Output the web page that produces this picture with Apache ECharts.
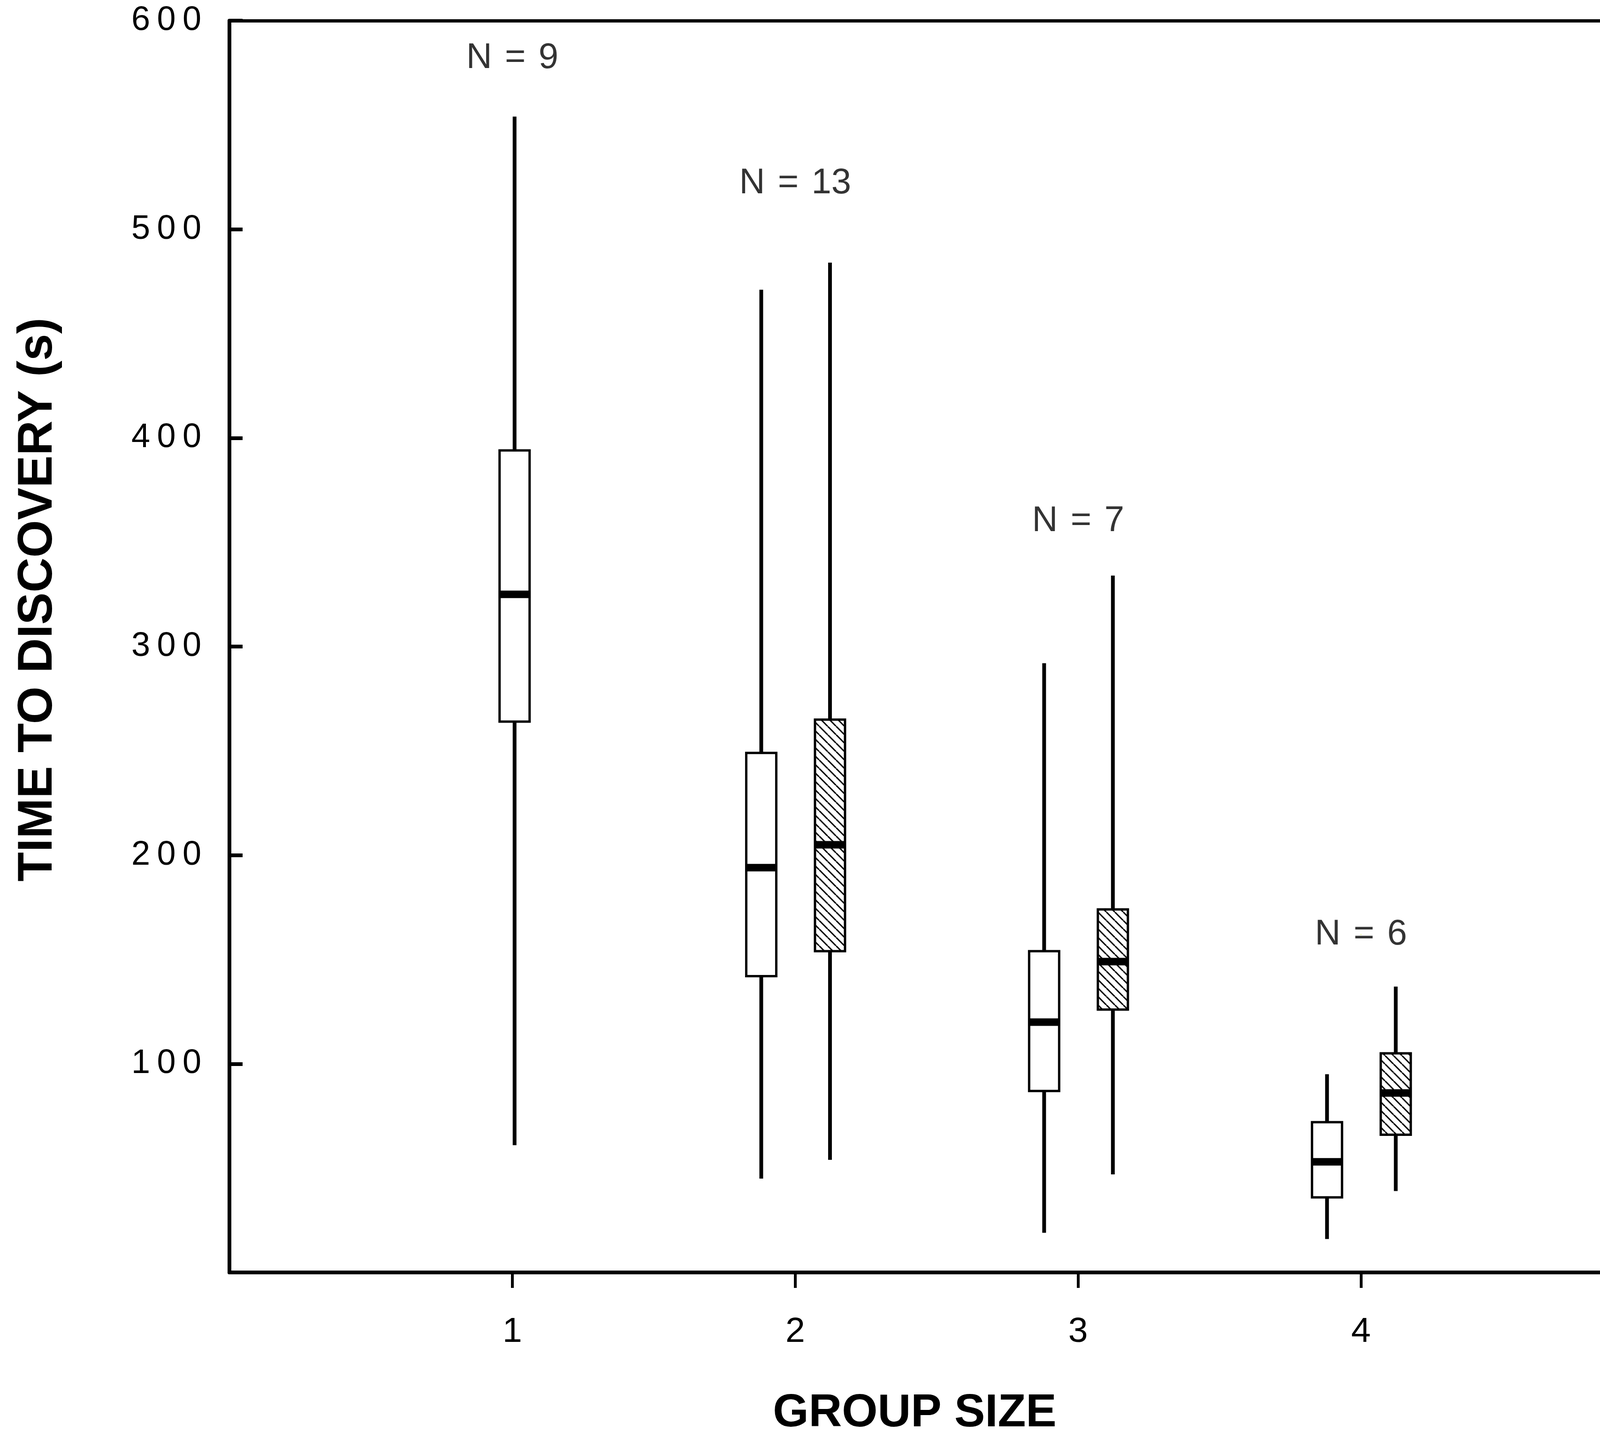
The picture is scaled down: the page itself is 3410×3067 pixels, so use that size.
<!DOCTYPE html>
<html>
<head>
<meta charset="utf-8">
<script src="https://cdn.jsdelivr.net/npm/echarts@6/dist/echarts.min.js"></script>
<style>
  html, body { margin: 0; background: #fff; }
  #chart { width: 3410px; height: 3067px; }
</style>
</head>
<body>
<div id="chart"></div>
<script>
// box plot values (seconds)
const groupSize   = [1, 2, 2, 3, 3, 4, 4];
const hatched     = [0, 0, 1, 0, 1, 0, 1];
const whiskerLow  = [61, 45, 54, 19, 47, 16, 39];
const q1          = [264, 142, 154, 87, 126, 36, 66];
const median      = [325, 194, 205, 120, 149, 53, 86];
const q3          = [394, 249, 265, 154, 174, 72, 105];
const whiskerHigh = [554, 471, 484, 292, 334, 95, 137];

const xTicks  = [1, 2, 3, 4];
const yTicks  = [100, 200, 300, 400, 500, 600];
const nLabels = ['N = 9', 'N = 13', 'N = 7', 'N = 6'];
const nLabelY = [582, 522, 360, 162];

const FONT = 'Liberation Sans';
const spaced = s => String(s).split('').join('\u2009');

// diagonal hatch used for the second box of each group
function hatchPattern() {
  const s = 18;
  const c = document.createElement('canvas');
  c.width = s; c.height = s;
  const ctx = c.getContext('2d');
  ctx.fillStyle = '#fff';
  ctx.fillRect(0, 0, s, s);
  ctx.strokeStyle = '#000';
  ctx.lineWidth = 3;
  for (let k = -1; k <= 1; k++) {
    ctx.beginPath();
    ctx.moveTo(k * s, 0);
    ctx.lineTo(k * s + s, s);
    ctx.stroke();
  }
  return c;
}
const hatch = { image: hatchPattern(), repeat: 'repeat' };

const boxData = groupSize.map((g, i) => {
  const paired = groupSize.filter(v => v === g).length > 1;
  const off = hatched[i] ? 0.123 : (paired ? -0.12 : 0.008);
  return [g + off, whiskerLow[i], q1[i], median[i], q3[i], whiskerHigh[i], hatched[i]];
});

const chart = echarts.init(document.getElementById('chart'));

const option = {
  backgroundColor: '#fff',
  animation: false,
  grid: { left: 489, top: 44, right: 0, bottom: 304 },
  xAxis: [
    {
      type: 'value',
      min: 0,
      max: 4.845,
      splitLine: { show: false },
      axisLine: { lineStyle: { color: '#000', width: 8 } },
      axisTick: { customValues: xTicks, length: 33, inside: false, lineStyle: { color: '#000', width: 6 } },
      axisLabel: { customValues: xTicks, margin: 90, color: '#000', fontFamily: FONT, fontSize: 75, formatter: v => spaced(v) },
      name: 'GROUP SIZE',
      nameLocation: 'middle',
      nameGap: 252,
      nameTextStyle: { color: '#000', fontFamily: FONT, fontWeight: 'bold', fontSize: 98 }
    },
    {
      type: 'value',
      position: 'top',
      min: 0,
      max: 4.845,
      splitLine: { show: false },
      axisLine: { lineStyle: { color: '#000', width: 7 } },
      axisTick: { show: false },
      axisLabel: { show: false }
    }
  ],
  yAxis: {
    type: 'value',
    min: 0,
    max: 600,
    interval: 100,
    splitLine: { show: false },
    axisLine: { show: true, lineStyle: { color: '#000', width: 8 } },
    axisTick: { inside: true, length: 28, lineStyle: { color: '#000', width: 8 } },
    axisLabel: { customValues: yTicks, margin: 60, color: '#000', fontFamily: FONT, fontSize: 72, formatter: v => spaced(v) },
    name: 'TIME TO DISCOVERY (s)',
    nameLocation: 'middle',
    nameRotate: 90,
    nameGap: 356,
    nameTextStyle: { color: '#000', fontFamily: FONT, fontWeight: 'bold', fontSize: 103, padding: [0, 0, 0, 200] }
  },
  series: [
    {
      type: 'custom',
      data: boxData,
      encode: { x: 0, y: [1, 5] },
      renderItem: function (params, api) {
        const x = api.value(0);
        const low = api.coord([x, api.value(1)]);
        const b1 = api.coord([x, api.value(2)]);
        const med = api.coord([x, api.value(3)]);
        const b3 = api.coord([x, api.value(4)]);
        const high = api.coord([x, api.value(5)]);
        const w = 64;
        return {
          type: 'group',
          children: [
            {
              type: 'line',
              shape: { x1: low[0], y1: low[1], x2: high[0], y2: high[1] },
              style: { stroke: '#000', lineWidth: 8 }
            },
            {
              type: 'rect',
              shape: { x: b3[0] - w / 2, y: b3[1], width: w, height: b1[1] - b3[1] },
              style: { fill: api.value(6) ? hatch : '#fff', stroke: '#000', lineWidth: 5 }
            },
            {
              type: 'rect',
              shape: { x: med[0] - w / 2, y: med[1] - 8, width: w, height: 16 },
              style: { fill: '#000' }
            }
          ]
        };
      }
    },
    {
      type: 'scatter',
      symbolSize: 0,
      data: xTicks.map((x, i) => ({ value: [x, nLabelY[i]], name: nLabels[i] })),
      label: {
        show: true,
        position: 'inside',
        color: '#000',
        fontFamily: FONT,
        fontSize: 76,
        formatter: p => p.name.replace(/ /g, ' \u200a')
      }
    }
  ]
};

chart.setOption(option);
window.onresize = function () { chart.resize(); };
</script>
</body>
</html>
